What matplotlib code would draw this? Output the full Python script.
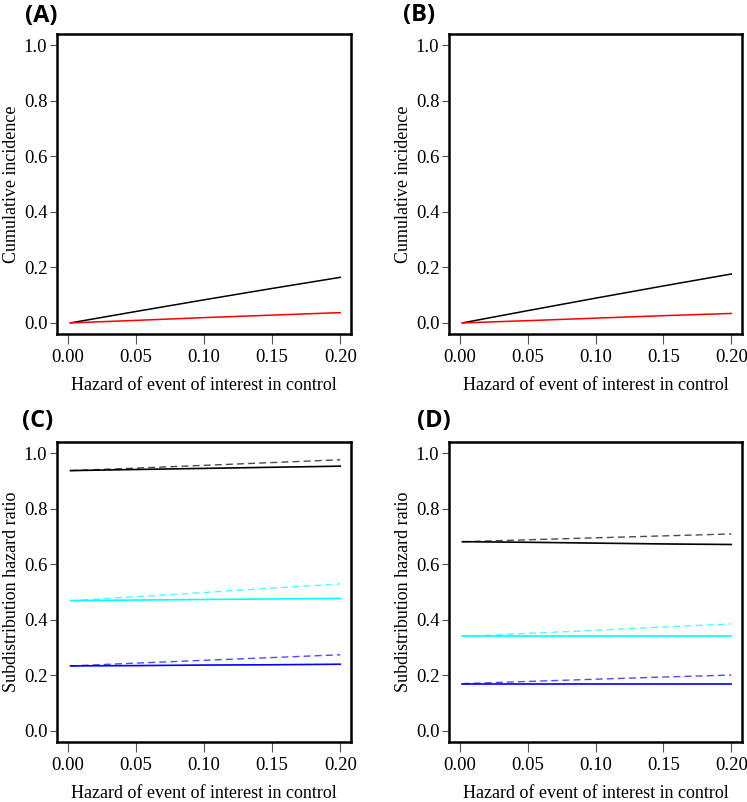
import matplotlib
matplotlib.use("Agg")
import matplotlib.pyplot as plt
import numpy as np

# ---- data ----
hazard = [0.002, 0.05, 0.10, 0.15, 0.20]

# Panel A: cumulative incidence
A_black = [0.000, 0.041, 0.083, 0.124, 0.164]
A_red = [0.000, 0.009, 0.019, 0.028, 0.037]
# Panel B
B_black = [0.000, 0.044, 0.089, 0.133, 0.176]
B_red = [0.000, 0.008, 0.017, 0.026, 0.034]

# Panel C: subdistribution hazard ratio
C_black_solid = [0.937, 0.941, 0.945, 0.949, 0.953]
C_black_dash = [0.937, 0.946, 0.956, 0.966, 0.976]
C_cyan_solid = [0.469, 0.471, 0.473, 0.475, 0.477]
C_cyan_dash = [0.469, 0.483, 0.498, 0.514, 0.529]
C_blue_solid = [0.234, 0.235, 0.237, 0.238, 0.240]
C_blue_dash = [0.234, 0.244, 0.254, 0.264, 0.274]
# Panel D
D_black_solid = [0.681, 0.679, 0.676, 0.673, 0.671]
D_black_dash = [0.681, 0.688, 0.695, 0.702, 0.709]
D_cyan_solid = [0.340, 0.340, 0.340, 0.340, 0.340]
D_cyan_dash = [0.340, 0.351, 0.362, 0.374, 0.385]
D_blue_solid = [0.170, 0.170, 0.170, 0.170, 0.170]
D_blue_dash = [0.170, 0.178, 0.186, 0.194, 0.201]

xticks = [0.00, 0.05, 0.10, 0.15, 0.20]
xticklabels = ["0.00", "0.05", "0.10", "0.15", "0.20"]
yticks = [0.0, 0.2, 0.4, 0.6, 0.8, 1.0]
yticklabels = ["0.0", "0.2", "0.4", "0.6", "0.8", "1.0"]
xlabel = "Hazard of event of interest in control"
panel_letters = ["(A)", "(B)", "(C)", "(D)"]
ylabels = ["Cumulative incidence", "Cumulative incidence",
           "Subdistribution hazard ratio", "Subdistribution hazard ratio"]

W, H = 747, 802
fig = plt.figure(figsize=(W / 100, H / 100), dpi=100)

serif = ["Liberation Serif", "DejaVu Serif"]

def px_axes(x0, y0, x1, y1):
    return fig.add_axes([x0 / W, 1 - y1 / H, (x1 - x0) / W, (y1 - y0) / H])

boxes = [(57, 34, 351, 334), (449, 34, 742, 334),
         (57, 442, 351, 742), (449, 442, 742, 742)]
letter_pos = [(41, 16), (419, 15), (38, 421), (434, 421)]

axes = [px_axes(*b) for b in boxes]

def style(ax, ylab):
    ax.set_xlim(-0.0079, 0.2079)
    ax.set_ylim(-0.04, 1.04)
    ax.set_xticks(xticks)
    ax.set_xticklabels(xticklabels, fontfamily=serif, fontsize=13.5)
    ax.set_yticks(yticks)
    ax.set_yticklabels(yticklabels, fontfamily=serif, fontsize=13.5)
    ax.tick_params(axis="both", direction="out", width=0.8,
                   color="#555555", labelcolor="black")
    ax.tick_params(axis="x", length=7, pad=4)
    ax.tick_params(axis="y", length=5, pad=2)
    for s in ax.spines.values():
        s.set_linewidth(1.8)
        s.set_color("black")
    ax.set_xlabel(xlabel, fontfamily=serif, fontsize=13, labelpad=8)
    ax.set_ylabel(ylab, fontfamily=serif, fontsize=13, labelpad=3)

# A, B
for ax, blk, red in [(axes[0], A_black, A_red), (axes[1], B_black, B_red)]:
    ax.plot(hazard, blk, color="black", lw=1.1)
    ax.plot(hazard, red, color="red", lw=1.1)

# C, D
dash = (0, (5, 3))
for ax, series in [
    (axes[2], [(C_black_solid, C_black_dash, "black"),
               (C_cyan_solid, C_cyan_dash, "cyan"),
               (C_blue_solid, C_blue_dash, "blue")]),
    (axes[3], [(D_black_solid, D_black_dash, "black"),
               (D_cyan_solid, D_cyan_dash, "cyan"),
               (D_blue_solid, D_blue_dash, "blue")]),
]:
    for sol, das, col in series:
        ax.plot(hazard, das, color=col, lw=1.0, linestyle=dash, alpha=0.7)
        ax.plot(hazard, sol, color=col, lw=1.2)

for ax, yl in zip(axes, ylabels):
    style(ax, yl)

for (x, y), t in zip(letter_pos, panel_letters):
    fig.text(x / W, 1 - y / H, t, ha="center", va="center",
             fontfamily=["Open Sans", "DejaVu Sans"], fontweight="bold", fontsize=17)

fig.savefig("out.png", dpi=100)
